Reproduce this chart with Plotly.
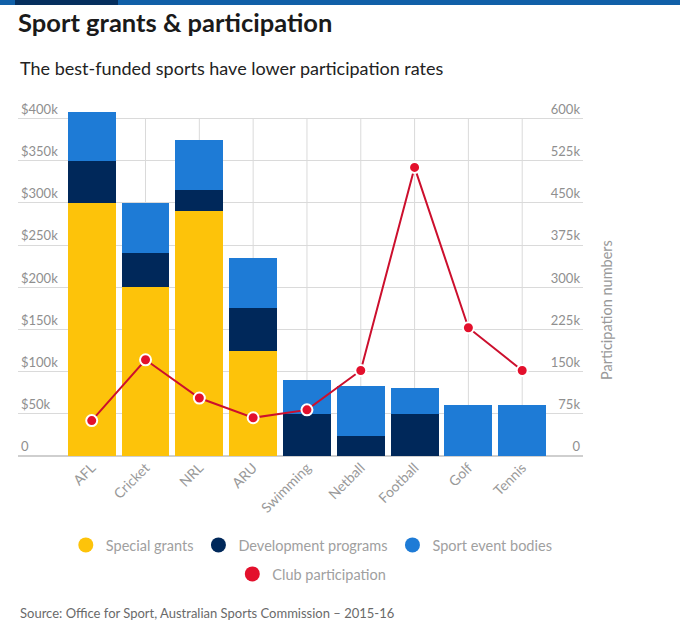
import plotly.graph_objs as go

# data
sports = ["AFL", "Cricket", "NRL", "ARU", "Swimming", "Netball", "Football", "Golf", "Tennis"]
special_grants = [300000, 200000, 290000, 125000, 0, 0, 0, 0, 0]
development_programs = [50000, 40000, 25000, 50000, 50000, 24000, 50000, 0, 0]
sport_event_bodies = [58000, 60000, 60000, 60000, 40000, 59000, 30000, 60000, 60000]
club_participation = [63000, 171000, 103000, 68000, 82000, 152000, 513000, 228000, 152000]

grant_ticks = [0, 50000, 100000, 150000, 200000, 250000, 300000, 350000, 400000]
grant_labels = ["0", "$50k", "$100k", "$150k", "$200k", "$250k", "$300k", "$350k", "$400k"]
part_ticks = [0, 75000, 150000, 225000, 300000, 375000, 450000, 525000, 600000]
part_labels = ["0", "75k", "150k", "225k", "300k", "375k", "450k", "525k", "600k"]

YELLOW = "#fdc30a"
NAVY = "#00285a"
BLUE = "#1e7bd6"
RED = "#e3102c"
GRID = "#dadada"
FONT = "Lato"

# plot area: 0 line at y=456px, 410k at the top (110px)
PH = 346.0
PW = 565.0

bar_series = [("Special grants", special_grants, YELLOW),
              ("Development programs", development_programs, NAVY),
              ("Sport event bodies", sport_event_bodies, BLUE)]

data = [go.Bar(x=sports, y=vals, name=name, marker=dict(color=col, line=dict(width=0)),
               showlegend=False, hoverinfo="x+y+name")
        for name, vals, col in bar_series]

data.append(go.Scatter(x=sports, y=club_participation, yaxis="y2", name="Club participation",
                       mode="lines+markers", cliponaxis=False, showlegend=False,
                       line=dict(color="#cc0f2d", width=2),
                       marker=dict(color=RED, size=11, line=dict(color="white", width=2))))

# legend entries drawn as circles, like the original
for name, _, col in bar_series:
    data.append(go.Scatter(x=[None], y=[None], mode="markers", name=name, legend="legend",
                           marker=dict(color=col, size=15)))
data.append(go.Scatter(x=[None], y=[None], mode="markers", name="Club participation",
                       legend="legend2", marker=dict(color=RED, size=15)))

# vertical grid lines at the categories, stopping at the top tick
shapes = [dict(type="line", xref="x", yref="y", x0=s, x1=s, y0=0, y1=grant_ticks[-1],
               line=dict(color=GRID, width=1), layer="below") for s in sports]
shapes += [
    dict(type="rect", xref="paper", yref="paper", x0=-18 / PW, x1=662 / PW,
         y0=(456 - 5) / PH, y1=456 / PH, fillcolor="#1160a8", line=dict(width=0), layer="above"),
    dict(type="rect", xref="paper", yref="paper", x0=-3 / PW, x1=100 / PW,
         y0=(456 - 5) / PH, y1=456 / PH, fillcolor="#062f5e", line=dict(width=0), layer="above"),
]

layout = go.Layout(
    width=680, height=642,
    margin=dict(l=18, r=97, t=110, b=186, autoexpand=False),
    paper_bgcolor="white", plot_bgcolor="white",
    font=dict(family=FONT, color="#8a8a8a", size=14),
    barmode="stack", bargap=0.11,
    title=dict(text="<b>Sport grants &amp; participation</b>", x=18 / 680, xanchor="left",
               y=1 - 23 / 642, yanchor="middle", font=dict(size=25.5, color="#1a1a1a", family=FONT)),
    xaxis=dict(range=[-1.37, 9.13], tickangle=-45, showgrid=False,
               ticks="", tickfont=dict(size=14, color="#999999"), fixedrange=True),
    yaxis=dict(range=[0, 410000], tickvals=grant_ticks, ticktext=grant_labels,
               ticklabelposition="inside top", ticklabeloverflow="allow", gridcolor=GRID,
               zeroline=True, zerolinecolor="#cfcfcf", zerolinewidth=2,
               tickfont=dict(size=13, color="#8f8f8f")),
    yaxis2=dict(range=[0, 615000], tickvals=part_ticks, ticktext=part_labels, overlaying="y",
                side="right", ticklabelposition="inside top", ticklabeloverflow="allow",
                showgrid=False, zeroline=False, tickfont=dict(size=13, color="#8f8f8f")),
    legend=dict(orientation="h", x=0.52, xanchor="center", y=(456 - 545) / PH, yanchor="middle",
                traceorder="normal", font=dict(size=14.5, color="#a0a0a0"), itemclick=False),
    legend2=dict(orientation="h", x=0.52, xanchor="center", y=(456 - 574) / PH, yanchor="middle",
                 font=dict(size=14.5, color="#a0a0a0"), itemclick=False),
    annotations=[
        dict(text="The best-funded sports have lower participation rates", xref="paper", yref="paper",
             x=0, y=(456 - 68) / PH, xanchor="left", yanchor="middle", showarrow=False,
             font=dict(size=18, color="#222222", family=FONT)),
        dict(text="Participation numbers", xref="paper", yref="paper", textangle=-90,
             x=(606 - 18) / PW, y=(456 - 310) / PH, xanchor="center", yanchor="middle",
             showarrow=False, font=dict(size=14.5, color="#999999", family=FONT)),
        dict(text="Source: Office for Sport, Australian Sports Commission \u2013 2015-16", xref="paper",
             yref="paper", x=0, y=(456 - 613) / PH, xanchor="left", yanchor="middle", showarrow=False,
             font=dict(size=13, color="#6a6a6a", family=FONT)),
    ],
    shapes=shapes,
)

fig = go.Figure(data=data, layout=layout)
# the page's default body margin would shift the chart by 8px
fig.write_html("out.html", config={"displayModeBar": False},
               post_script="document.body.style.margin='0';")
